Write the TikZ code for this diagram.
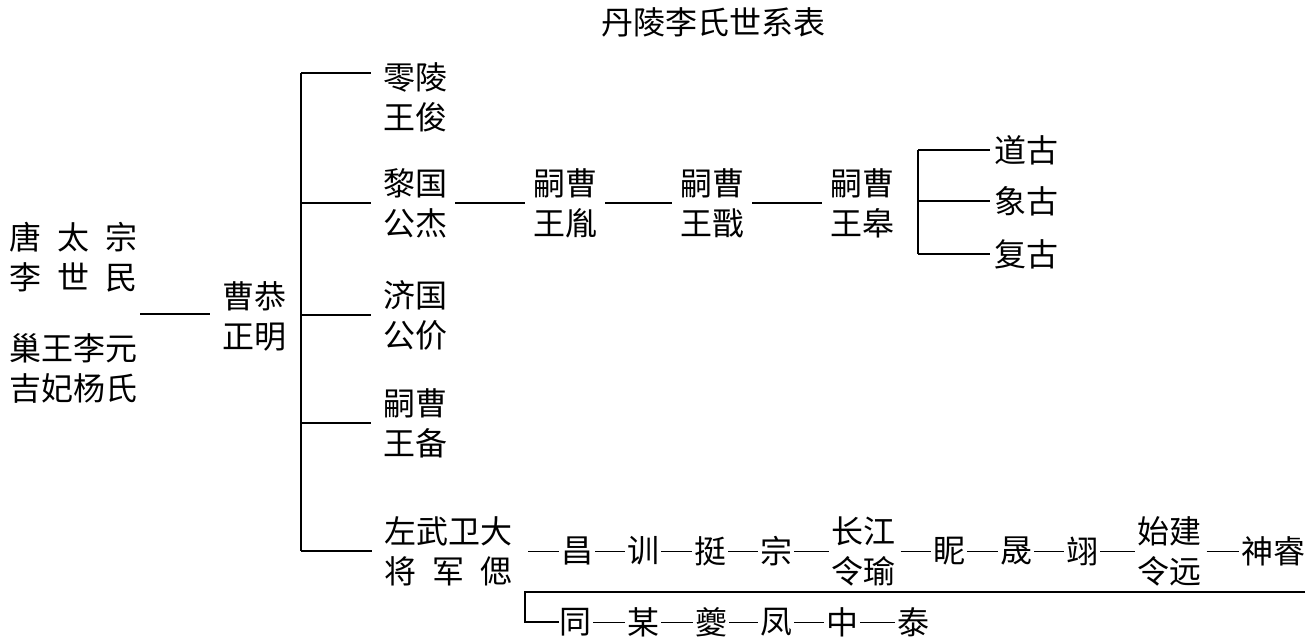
\documentclass[tikz,border=0pt]{standalone}
\usepackage{fontspec}
\newfontfamily\cjk{Noto Sans CJK SC}
\begin{document}
\begin{tikzpicture}[x=0.75pt,y=-0.75pt,
  txt/.style={inner sep=0pt, font=\cjk\fontsize{24}{30}\selectfont, align=center},
  tree/.style={line width=1pt},
  heavy/.style={line width=1.5pt},
  link/.style={line width=1pt, shorten <=6pt, shorten >=6pt},
  chain/.style={line width=0.5pt, shorten <=1.5pt, shorten >=1.5pt}]
\useasboundingbox (0,0) rectangle (1309,641);

\node[txt] (title) at (713,22) {丹陵李氏世系表};

% ancestors
\node[txt] (tz) at (73,257) {\makebox[4em]{唐\hfill{}太\hfill{}宗}\\\makebox[4em]{李\hfill{}世\hfill{}民}};
\node[txt] (ca) at (73,368) {巢王李元\\吉妃杨氏};
\node[txt] (cm) at (254,316) {曹恭\\正明};
\coordinate (lj) at (140,314);
\draw[heavy] (lj) -- ([xshift=-9pt]cm.west |- lj);

% sons
\node[txt] (ll) at (415,97) {零陵\\王俊};
\node[txt] (lg) at (415,203) {黎国\\公杰};
\node[txt] (jg) at (415,315) {济国\\公价};
\node[txt] (sb) at (415,423) {嗣曹\\王备};
\node[txt] (zw) at (448,551) {左武卫大\\\makebox[4em]{将\hfill{}军\hfill{}偲}};

\coordinate (t0) at (301,73);
\draw[tree] (t0) -- (t0 |- zw.west);
\draw[tree] (t0) -- ([xshift=-9pt]ll.west |- t0);
\draw[tree] (t0 |- lg.west) -- ([xshift=-9pt]lg.west);
\draw[heavy] (t0 |- jg.west) -- ([xshift=-9pt]jg.west);
\draw[tree] (t0 |- sb.west) -- ([xshift=-9pt]sb.west);
\draw[tree] (t0 |- zw.west) -- ([xshift=-9pt]zw.west);

% line of 黎国公杰
\node[txt] (y1) at (565,203) {嗣曹\\王胤};
\node[txt] (y2) at (712,203) {嗣曹\\王戬};
\node[txt] (y3) at (862,203) {嗣曹\\王皋};
\draw[link] (lg.east) -- (y1.west);
\draw[link] (y1.east) -- (y2.west);
\draw[link] (y2.east) -- (y3.west);

\node[txt] (dg) at (1026,150) {道古};
\node[txt] (xg) at (1026,201) {象古};
\node[txt] (fg) at (1026,254) {复古};
\coordinate (b0) at (918,150);
\draw[tree] (b0 |- dg.west) -- (b0 |- fg.west);
\draw[tree] (b0 |- dg.west) -- ([xshift=-3pt]dg.west);
\draw[tree] (b0 |- xg.west) -- ([xshift=-3pt]xg.west);
\draw[tree] (b0 |- fg.west) -- ([xshift=-3pt]fg.west);

% line of 左武卫大将军偲
\node[txt] (c1) at (577,551) {昌};
\node[txt] (c2) at (643,551) {训};
\node[txt] (c3) at (710,551) {挺};
\node[txt] (c4) at (776,551) {宗};
\node[txt] (c5) at (863,551) {长江\\令瑜};
\node[txt] (c6) at (949,551) {眤};
\node[txt] (c7) at (1016,551) {晟};
\node[txt] (c8) at (1082,551) {翊};
\node[txt] (c9) at (1169,551) {始建\\令远};
\node[txt] (c10) at (1273,551) {神睿};
\draw[chain, shorten <=12pt] (zw.east) -- (c1.west);
\draw[chain] (c1.east) -- (c2.west);
\draw[chain] (c2.east) -- (c3.west);
\draw[chain] (c3.east) -- (c4.west);
\draw[chain] (c4.east) -- (c5.west);
\draw[chain, shorten <=4pt] (c5.east) -- (c6.west);
\draw[chain] (c6.east) -- (c7.west);
\draw[chain] (c7.east) -- (c8.west);
\draw[chain] (c8.east) -- (c9.west);
\draw[chain, shorten <=4pt] (c9.east) -- (c10.west);

\node[txt] (d1) at (575,622) {同};
\node[txt] (d2) at (643,622) {某};
\node[txt] (d3) at (711,622) {夔};
\node[txt] (d4) at (776,622) {凤};
\node[txt] (d5) at (842,622) {中};
\node[txt] (d6) at (913,622) {泰};
\coordinate (k0) at (525,592);
\coordinate (k1) at (1305,592);
\draw[heavy] (k1) -- (k0) -- (k0 |- d1.west) -- (d1.west);
\draw[chain] (d1.east) -- (d2.west);
\draw[chain] (d2.east) -- (d3.west);
\draw[chain] (d3.east) -- (d4.west);
\draw[chain] (d4.east) -- (d5.west);
\draw[chain] (d5.east) -- (d6.west);
\end{tikzpicture}
\end{document}
